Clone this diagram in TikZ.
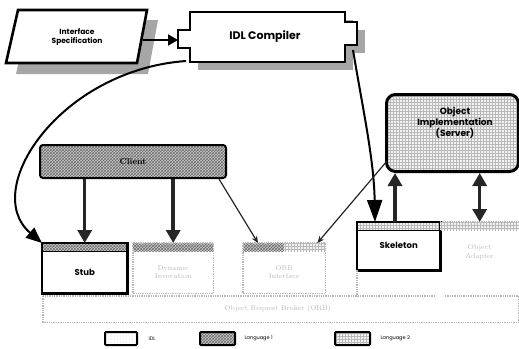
\documentclass[tikz,border=0pt]{standalone}
\usepackage{fontspec}
\newfontfamily\geo{Poppins}
\usetikzlibrary{patterns,arrows.meta}
\begin{document}
\begin{tikzpicture}[x=1pt,y=-1pt,
  lang1/.style={preaction={fill=gray!40}, pattern=crosshatch, pattern color=gray!85!black},
  lang2/.style={preaction={fill=gray!10}, pattern=grid, pattern color=gray!55},
  idl/.style={preaction={fill=white}, pattern=dots, pattern color=gray!45},
  shadowfill/.style={fill=gray!70},
  boldline/.style={draw=black, line width=2.3pt},
  faintline/.style={draw=gray!55, line width=1.3pt, densely dotted},
  faint/.style={text=gray!55, font=\fontsize{7}{8.5}\selectfont, align=center},
  sanslabel/.style={font=\geo\bfseries\fontsize{7.5}{8.5}\selectfont, align=center},
  thickarrow/.style={line width=3.5pt, black!85, -{Triangle[length=13pt,width=14pt]}},
  thinarrow/.style={line width=1.2pt, gray!30!black, -{Stealth[length=7pt,width=6pt]}},
  legbox/.style={draw=black, line width=2pt, rounded corners=1pt, minimum height=13pt},
  leglabel/.style={font=\geo\fontsize{5}{6}\selectfont, anchor=west}
]
\useasboundingbox (0,0) rectangle (519,348);

% ---------- Interface Specification ----------
\fill[shadowfill] (28,20) -- (158,20) -- (148,74) -- (16,74) -- cycle;
\filldraw[fill=white, boldline, line width=2.6pt] (18,10) -- (147,10) -- (137,63) -- (6,63) -- cycle;
\node[sanslabel] (spec) at (77,37) {Interface\\Specification};
\coordinate (specR) at (143,40);

% ---------- IDL Compiler ----------
\fill[shadowfill] (198,20) rectangle (353,70);
\fill[shadowfill] (353,30) rectangle (365,53);
\filldraw[fill=white, boldline] (190,12) -- (345,12) -- (345,22) -- (357,22) -- (357,45) -- (345,45)
  -- (345,62) -- (190,62) -- (190,48) -- (178,48) -- (178,30) -- (190,30) -- cycle;
\node[minimum width=155pt, minimum height=50pt, font=\geo\bfseries\fontsize{11}{12}\selectfont] (comp) at (265,37) {IDL Compiler};
\coordinate (compL) at (178,40);
\coordinate (c1) at (186,61);
\coordinate (c2) at (353,50);
\draw[line width=2pt, -{Triangle[length=10pt,width=11pt]}] (specR) -- (compL);

% ---------- Client ----------
\node[draw, line width=2pt, rounded corners=3pt, lang1, minimum width=186pt, minimum height=33pt,
  font=\bfseries\fontsize{8.5}{9}\selectfont] (client) at (133,161.5) {Client};

% ---------- Stub ----------
\node[fill=white, minimum width=85pt, minimum height=50pt, anchor=north west] (stub) at (42,243) {};
\path[lang1] (stub.north west) rectangle ([yshift=-8pt]stub.north east);
\draw[line width=1pt] ([yshift=-8pt]stub.north west) -- ([yshift=-8pt]stub.north east);
\draw[boldline] (stub.north west) rectangle (stub.south east);
\node[sanslabel, font=\geo\bfseries\fontsize{8.5}{9}\selectfont] at ([yshift=-4pt]stub.center) {Stub};

% ---------- Dynamic Invocation ----------
\node[fill=white, minimum width=80pt, minimum height=50pt, anchor=north west] (dyn) at (133,243) {};
\path[lang1] (dyn.north west) rectangle ([yshift=-8pt]dyn.north east);
\draw[faintline] (dyn.north west) rectangle (dyn.south east);
\node[faint] at ([yshift=-4pt]dyn.center) {Dynamic\\Invocation};

% ---------- ORB Interface ----------
\node[fill=white, minimum width=82pt, minimum height=50pt, anchor=north west] (orbif) at (243,243) {};
\path[lang1] (orbif.north west) rectangle ([yshift=-8pt]orbif.north);
\path[lang2] (orbif.north) rectangle ([yshift=-8pt]orbif.north east);
\draw[faintline] (orbif.north west) rectangle (orbif.south east);
\node[faint] at ([yshift=-4pt]orbif.center) {ORB\\Interface};

% ---------- Skeleton ----------
\node[fill=white, minimum width=83pt, minimum height=48pt, anchor=north west] (skel) at (357,222) {};
\path[lang2] (skel.north west) rectangle ([yshift=-8pt]skel.north east);
\draw[line width=1pt] ([yshift=-8pt]skel.north west) -- ([yshift=-8pt]skel.north east);
\draw[boldline] (skel.north west) rectangle (skel.south east);
\node[sanslabel, font=\geo\bfseries\fontsize{8.5}{9}\selectfont] at ([yshift=-2pt]skel.center |- 0,243) {Skeleton};
\coordinate (skU) at (395,222);
\coordinate (skT) at (375,222);

% ---------- Object Adapter ----------
\node[minimum width=79pt, minimum height=48pt, anchor=north west] (adapter) at (440,222) {};
\path[lang2] (adapter.north west) rectangle ([yshift=-8pt]adapter.north east);
\draw[faintline] (adapter.north west) -- (adapter.north east);
\node[faint] at ([yshift=-6pt]adapter.center) {Object\\Adapter};

% ---------- ORB bar ----------
\node[fill=white, minimum width=475pt, minimum height=26pt, anchor=north west] (orb) at (43,296) {};
\draw[faintline] (orb.north west) rectangle (orb.south east);
\fill[white] (436,293) rectangle (444,299);
\draw[faintline] (skel.south west) -- (skel.south west |- orb.north);
\node[faint] at ([xshift=-3pt]orb.center) {Object Request Broker (ORB)};

% ---------- Object Implementation ----------
\node[draw, line width=3pt, rounded corners=9pt, lang2, minimum width=132pt, minimum height=77pt, anchor=north west] (impl) at (385,93) {};
\node[sanslabel, font=\geo\bfseries\fontsize{9}{10.5}\selectfont] at (455,123) {Object\\Implementation\\(Server)};
\coordinate (implBL) at (387,161);

% ---------- connectors ----------
\draw[line width=2pt, -{Triangle[length=16pt,width=13pt]}] (c1) .. controls (60,70) and (-20,190) .. (stub.north west);
\draw[line width=2pt, -{Triangle[length=22pt,width=15pt]}] (c2) .. controls (363,110) and (374,160) .. (skT);
\draw[thickarrow] (client.south -| stub.north) -- (stub.north);
\draw[thickarrow] (client.south -| dyn.north) -- (dyn.north);
\draw[thinarrow] ([xshift=-8pt]client.south east) -- ([xshift=15pt]orbif.north west);
\draw[thinarrow] (implBL) -- ([xshift=-8pt]orbif.north east);
\draw[thickarrow] (skU) -- (skU |- impl.south);
\draw[thickarrow, {Triangle[length=13pt,width=14pt]}-{Triangle[length=13pt,width=14pt]}] (impl.south -| adapter.north) -- (adapter.north);

% ---------- legend ----------
\node[legbox, idl, minimum width=32pt] (lg1) at (121,338.5) {};
\node[leglabel] (lt1) at ([xshift=7pt]lg1.east) {IDL};
\node[legbox, lang1, minimum width=35pt] (lg2) at (217.5,338.5) {};
\node[leglabel] (lt2) at ([xshift=5pt]lg2.east) {Language 1};
\node[legbox, lang2, minimum width=35pt] (lg3) at (352.5,338.5) {};
\node[leglabel] (lt3) at ([xshift=6pt]lg3.east) {Language 2};
\end{tikzpicture}
\end{document}
